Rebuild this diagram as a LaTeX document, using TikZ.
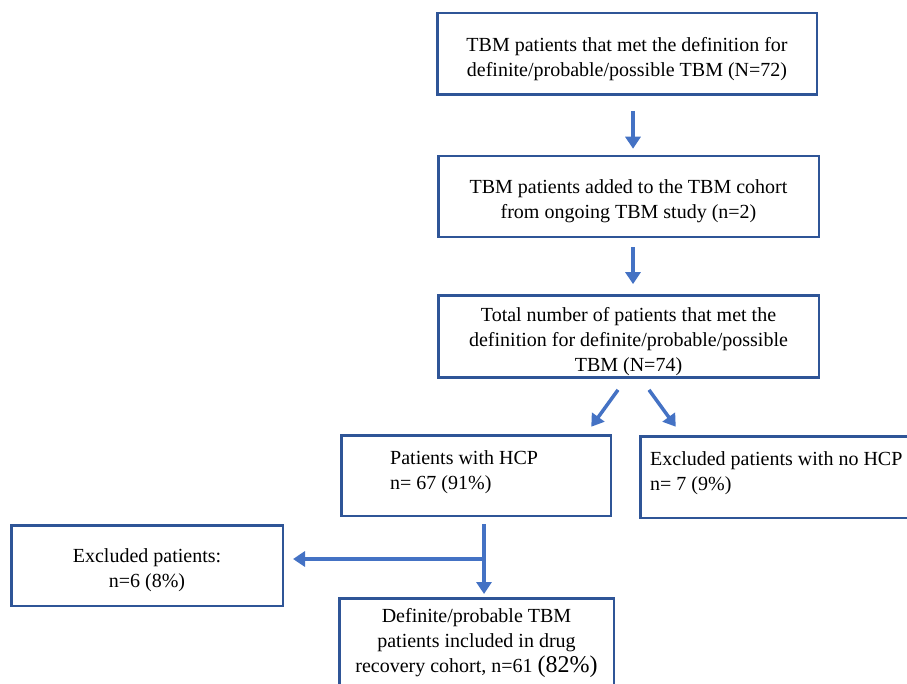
\documentclass[tikz,border=0pt]{standalone}
\usepackage{fontspec}
\setmainfont{Liberation Serif}
\usetikzlibrary{arrows.meta}
\definecolor{boxblue}{HTML}{2F5597}
\definecolor{arrowblue}{HTML}{4472C4}
\newcommand{\toplift}{\rule{0pt}{24pt}}
\tikzset{
  flowbox/.style={draw=boxblue, line width=2.5pt, align=center, inner sep=2pt,
    font=\fontsize{20}{25}\selectfont},
  flowtext/.style={align=left, inner sep=0pt, font=\fontsize{20}{25}\selectfont},
  flowarrow/.style={draw=arrowblue, line width=3.5pt, -{Triangle[width=15pt,length=12pt]}}
}
\begin{document}
\begin{tikzpicture}[x=1pt, y=-1pt]
    \useasboundingbox (0,0) rectangle (907,684);

    % Main column
    \node[flowbox, minimum width=379.5pt, minimum height=81.5pt] (tbm) at (627,54)
        {\toplift TBM patients that met the definition for\\definite/probable/possible TBM (N=72)};
    \node[flowbox, minimum width=380.5pt, minimum height=81pt] (added) at (628.5,196.5)
        {\toplift TBM patients added to the TBM cohort\\from ongoing TBM study (n=2)};
    \node[flowbox, minimum width=380.5pt, minimum height=81pt] (total) at (628.5,336.5)
        {\toplift Total number of patients that met the\\definition for definite/probable/possible\\TBM (N=74)};

    % HCP split
    \node[flowbox, minimum width=269.5pt, minimum height=80.5pt] (hcp) at (476,475.5) {};
    \node[flowtext, anchor=north west] (hcptext) at (390,450) {Patients with HCP\\n= 67 (91\%)};
    \node[flowbox, minimum width=274.5pt, minimum height=81.5pt] (nohcp) at (777.5,477) {};
    \node[flowtext, anchor=north west] (nohcptext) at (650,451) {Excluded patients with no HCP\\n= 7 (9\%)};

    % Last row
    \node[flowbox, minimum width=271.5pt, minimum height=80.5pt] (excl) at (147,565.5)
        {\toplift Excluded patients:\\n=6 (8\%)};
    \node[flowbox, minimum width=274.5pt, minimum height=90pt] (incl) at (476.5,643.25)
        {Definite/probable TBM\\patients included in drug\\recovery cohort, n=61 {\fontsize{24}{25}\selectfont(82\%)}};

    % Arrows down the column
    \draw[flowarrow] ([xshift=6pt,yshift=-15pt]tbm.south) -- ([xshift=4.5pt,yshift=6pt]added.north);
    \draw[flowarrow] ([xshift=4.5pt,yshift=-9pt]added.south) -- ([xshift=4.5pt,yshift=10pt]total.north);
    \draw[flowarrow] ([xshift=-10.5pt,yshift=-11pt]total.south) -- ([xshift=-20.75pt,yshift=7.25pt]hcp.north east);
    \draw[flowarrow] ([xshift=20.5pt,yshift=-11pt]total.south) -- ([xshift=36.75pt,yshift=8.25pt]nohcp.north west);

    % Branch to the excluded patients
    \coordinate (jct) at (484,559);
    \draw[flowarrow] ([xshift=8pt,yshift=-7pt]hcp.south) -- ([xshift=7.5pt,yshift=3pt]incl.north);
    \draw[flowarrow, shorten >=9pt] (jct) -- (jct -| excl.east);
\end{tikzpicture}
\end{document}
